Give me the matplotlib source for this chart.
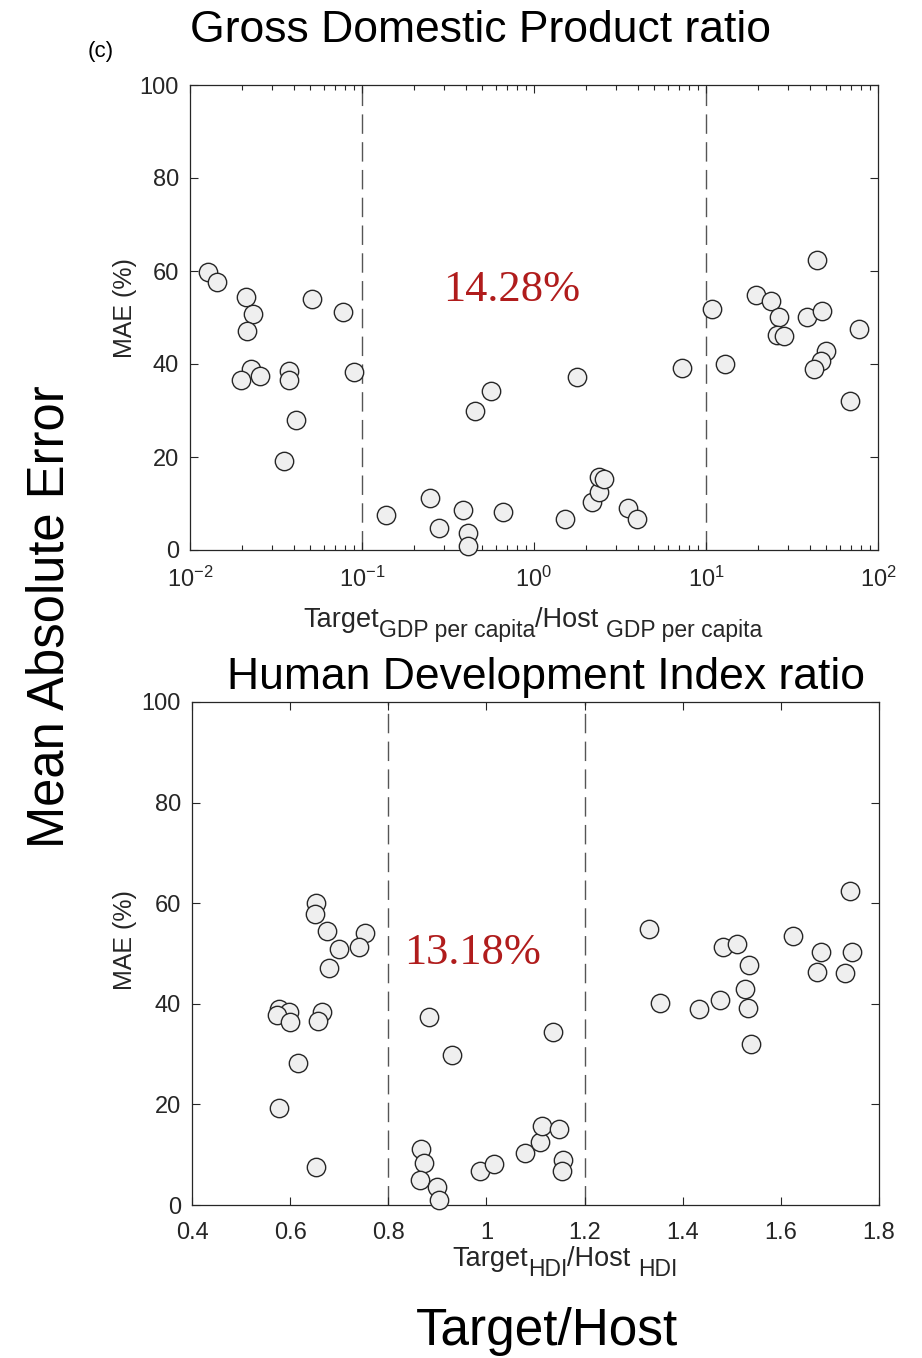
import numpy as np
import matplotlib
matplotlib.use("Agg")
import matplotlib.pyplot as plt
from matplotlib.ticker import LogLocator, FixedLocator, FormatStrFormatter

plt.rcParams["font.family"] = ["Liberation Sans", "DejaVu Sans"]
plt.rcParams["mathtext.fontset"] = "custom"
plt.rcParams["mathtext.rm"] = "Liberation Sans"
plt.rcParams["mathtext.it"] = "Liberation Sans:italic"
plt.rcParams["mathtext.default"] = "rm"
plt.rcParams["axes.unicode_minus"] = False

# GDP per capita ratio (target / host) and MAE (%)
gdp_ratio = [0.0128, 0.0144, 0.0212, 0.0233, 0.0214, 0.0511, 0.0773, 0.0225,
             0.0197, 0.0255, 0.0377, 0.0377, 0.0902, 0.0413, 0.0352,
             0.138, 0.248, 0.282, 0.387, 0.415, 0.415, 0.658, 0.456, 0.560,
             1.51, 1.77, 2.17, 2.38, 2.38, 2.56, 3.52, 3.97, 7.21,
             10.9, 12.9, 19.5, 24.0, 26.5, 26.0, 28.3, 44.0, 38.8, 47.1,
             50.1, 46.5, 42.7, 77.8, 69.0]
gdp_mae = [59.8, 57.7, 54.5, 50.8, 47.1, 54.0, 51.2, 38.9,
           36.6, 37.5, 38.5, 36.6, 38.3, 28.0, 19.2,
           7.5, 11.1, 4.8, 8.5, 3.6, 0.9, 8.1, 29.8, 34.1,
           6.7, 37.3, 10.3, 12.5, 15.6, 15.2, 9.0, 6.7, 39.2,
           51.8, 40.1, 54.8, 53.5, 50.1, 46.3, 46.0, 62.4, 50.2, 51.3,
           42.9, 40.7, 38.9, 47.6, 32.1]

# HDI ratio (target / host) and MAE (%)
hdi_ratio = [0.653, 0.651, 0.676, 0.753, 0.740, 0.699, 0.679, 0.577,
             0.597, 0.573, 0.599, 0.664, 0.656, 0.616, 0.578, 0.653,
             0.882, 0.930, 1.135, 0.867, 0.873, 0.865, 0.899, 0.903,
             0.986, 1.016, 1.078, 1.109, 1.114, 1.148, 1.156, 1.154,
             1.332, 1.353, 1.433, 1.476, 1.483, 1.510, 1.535, 1.527,
             1.534, 1.539, 1.624, 1.682, 1.674, 1.731, 1.745, 1.741]
hdi_mae = [60.0, 57.8, 54.5, 54.1, 51.2, 50.8, 47.1, 38.9,
           38.4, 37.8, 36.4, 38.4, 36.6, 28.2, 19.2, 7.6,
           37.3, 29.8, 34.3, 11.1, 8.4, 4.9, 3.6, 1.0,
           6.7, 8.2, 10.3, 12.6, 15.7, 15.2, 8.9, 6.8,
           54.8, 40.1, 39.0, 40.8, 51.3, 51.9, 47.7, 42.9,
           39.2, 32.1, 53.5, 50.2, 46.3, 46.1, 50.2, 62.5]

gdp_bounds = [0.1, 10]
hdi_bounds = [0.8, 1.2]
gdp_pct = "14.28%"
hdi_pct = "13.18%"

W, H = 922, 1358
fig = plt.figure(figsize=(W / 100, H / 100), dpi=100)

axc = "#262626"
red = "#b01c1c"


def px_axes(x0, x1, y0, y1):
    # axes from pixel edges (left, right, top, bottom)
    return fig.add_axes([x0 / W, 1 - y1 / H, (x1 - x0) / W, (y1 - y0) / H])


def style(ax):
    for s in ax.spines.values():
        s.set_color(axc)
        s.set_linewidth(0.9)
    ax.tick_params(which="both", direction="in", top=True, right=True,
                   colors=axc, labelsize=17)
    ax.tick_params(axis="x", pad=12)
    ax.tick_params(axis="y", pad=8)
    ax.tick_params(which="major", length=6, width=0.8)
    ax.tick_params(which="minor", length=3.5, width=0.8)
    ax.set_ylim(0, 100)
    ax.yaxis.set_major_locator(FixedLocator([0, 20, 40, 60, 80, 100]))


def points(ax, x, y, bounds):
    for b in bounds:
        ax.axvline(b, color="#555555", lw=1.0, dashes=(14, 6), zorder=1)
    ax.scatter(x, y, s=175, facecolor="#efefef", edgecolor=axc,
               linewidth=1.0, zorder=3, clip_on=False)


def sub_label(xc, yb, parts):
    # parts: (text, fontsize, drop in px) laid out left to right, centred on xc
    r = fig.canvas.get_renderer()
    texts = []
    for s, fs, dy in parts:
        t = fig.text(0, 1 - (yb + dy) / H, s, fontsize=fs, color=axc,
                     ha="left", va="baseline")
        texts.append(t)
    widths = [t.get_window_extent(r).width for t in texts]
    x = xc - sum(widths) / 2
    for t, w in zip(texts, widths):
        t.set_x(x / W)
        x += w


# GDP panel
ax1 = px_axes(190, 878, 85, 550)
ax1.set_xscale("log")
ax1.set_xlim(1e-2, 1e2)
style(ax1)
ax1.xaxis.set_major_locator(LogLocator(base=10, numticks=10))
ax1.xaxis.set_minor_locator(LogLocator(base=10, subs=np.arange(2, 10), numticks=20))
points(ax1, gdp_ratio, gdp_mae, gdp_bounds)
ax1.text(0.745, 55.9, gdp_pct, color=red, fontsize=32, family="Liberation Serif",
         ha="center", va="center")

# HDI panel
ax2 = px_axes(192, 879, 702, 1205)
ax2.set_xlim(0.4, 1.8)
style(ax2)
ax2.xaxis.set_major_locator(FixedLocator([0.4, 0.6, 0.8, 1.0, 1.2, 1.4, 1.6, 1.8]))
ax2.xaxis.set_major_formatter(FormatStrFormatter("%g"))
points(ax2, hdi_ratio, hdi_mae, hdi_bounds)
ax2.text(0.971, 50.1, hdi_pct, color=red, fontsize=32, family="Liberation Serif",
         ha="center", va="center")

# titles and labels
fig.text(481 / W, 1 - 30 / H, "Gross Domestic Product ratio", fontsize=32,
         ha="center", va="center")
fig.text(546 / W, 1 - 678 / H, "Human Development Index ratio", fontsize=32,
         ha="center", va="center")
fig.text(101 / W, 1 - 52 / H, "(c)", fontsize=16, ha="center", va="center")

for yc in (308, 940):
    fig.text(125 / W, 1 - yc / H, "MAE (%)", fontsize=18, rotation=90,
             ha="center", va="center", color=axc)

sub_label(533, 627, [("Target", 19.5, 0), ("GDP per capita", 16.5, 10),
                     ("/Host ", 19.5, 0), ("GDP per capita", 16.5, 10)])
sub_label(565, 1266, [("Target", 19.5, 0), ("HDI", 16.5, 10),
                      ("/Host ", 19.5, 0), ("HDI", 16.5, 10)])

fig.text(50 / W, 1 - 617 / H, "Mean Absolute Error", fontsize=36.5, rotation=90,
         ha="center", va="center")
fig.text(547 / W, 1 - 1332 / H, "Target/Host", fontsize=37,
         ha="center", va="center")

fig.savefig("out.png", dpi=100)
